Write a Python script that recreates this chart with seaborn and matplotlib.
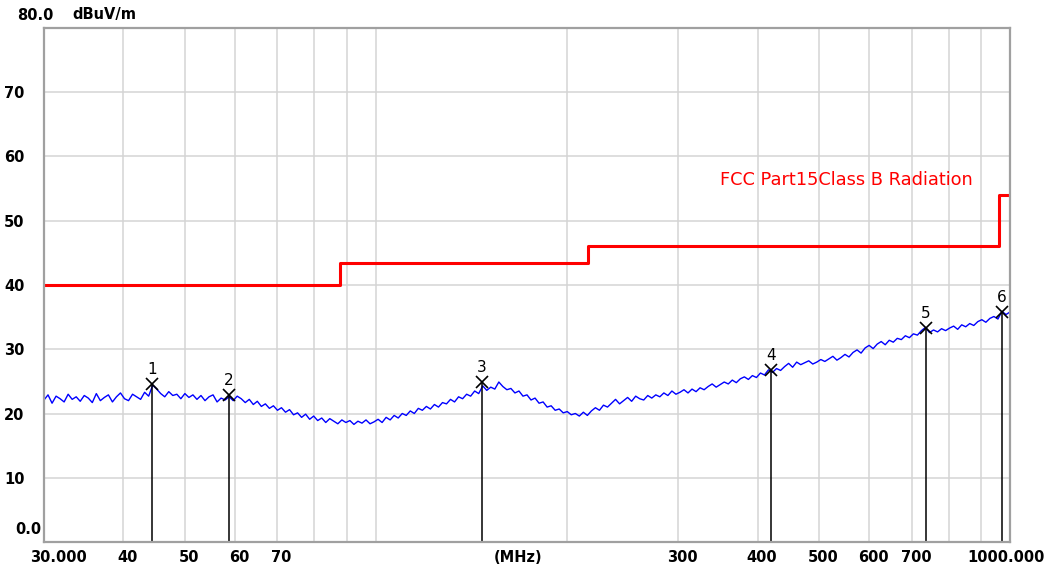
import numpy as np
import pandas as pd
import matplotlib
matplotlib.use("Agg")
import matplotlib.pyplot as plt
import seaborn as sns

sns.set_style('white')
plt.rcParams['font.family'] = ['DejaVu Sans']
plt.rcParams['text.color'] = 'black'
plt.rcParams['xtick.color'] = 'black'
plt.rcParams['ytick.color'] = 'black'

# 測定データ (dBuV/m)  30MHz - 1000MHz のスイープ
trace_level = [
    22.1, 22.9, 21.6, 22.7, 22.3, 21.8, 23.0, 22.2, 22.6, 21.9,
    22.8, 22.4, 21.7, 23.1, 22.0, 22.5, 22.9, 21.8, 22.6, 23.2,
    22.3, 22.0, 23.0, 22.6, 22.2, 23.3, 22.7, 24.4, 23.8, 23.1,
    22.6, 23.4, 22.8, 23.0, 22.3, 23.1, 22.5, 22.9, 22.2, 22.8,
    22.0, 22.6, 22.9, 21.8, 22.4, 22.1, 22.6, 22.0, 22.7, 22.3,
    21.7, 22.2, 21.4, 21.9, 21.1, 21.5, 20.8, 21.2, 20.5, 20.9,
    20.2, 20.6, 19.8, 20.1, 19.4, 19.9, 19.1, 19.6, 18.9, 19.3,
    18.6, 19.2, 18.8, 18.4, 19.0, 18.6, 18.9, 18.3, 18.8, 18.5,
    19.0, 18.4, 18.7, 19.1, 18.6, 19.4, 19.0, 19.7, 19.3, 20.0,
    19.7, 20.4, 20.0, 20.8, 20.5, 21.1, 20.7, 21.4, 21.0, 21.7,
    21.5, 22.2, 21.8, 22.6, 22.3, 23.0, 22.7, 23.5, 23.1, 24.3,
    23.6, 24.1, 23.8, 24.9, 24.2, 23.7, 23.9, 23.2, 23.5, 22.7,
    22.9, 22.1, 22.4, 21.6, 21.8, 21.0, 21.2, 20.5, 20.7, 20.1,
    20.3, 19.8, 20.0, 19.6, 20.2, 19.7, 20.4, 20.9, 20.5, 21.3,
    21.0, 21.6, 22.2, 21.5, 22.0, 22.5, 21.9, 22.7, 22.3, 22.1,
    22.8, 22.4, 22.9, 22.6, 23.2, 22.8, 23.5, 23.0, 23.3, 23.7,
    23.2, 23.8, 23.4, 24.0, 23.7, 24.2, 24.6, 24.1, 24.5, 24.9,
    24.6, 25.2, 24.8, 25.4, 25.7, 25.3, 25.9, 25.6, 26.3, 26.0,
    26.8, 26.4, 27.0, 26.7, 27.3, 27.8, 27.2, 28.0, 27.6, 27.9,
    28.2, 27.7, 28.0, 28.4, 28.1, 28.5, 28.9, 28.3, 28.7, 29.2,
    28.8, 29.5, 29.9, 29.4, 30.2, 30.6, 30.1, 30.8, 31.2, 30.7,
    31.4, 31.1, 31.7, 31.5, 32.1, 31.8, 32.4, 32.2, 32.9, 33.4,
    32.6, 33.0, 32.7, 33.2, 32.9, 33.3, 33.6, 33.1, 33.8, 33.5,
    34.0, 33.7, 34.3, 34.6, 34.2, 34.8, 35.1, 34.7, 35.9, 35.4, 35.8,
]
trace_freq = np.geomspace(30, 1000, len(trace_level))

# FCC Part15 Class B 限度値
limit_freq = [30, 88, 216, 960, 1000]
limit_level = [40.0, 43.5, 46.0, 54.0, 54.0]

# マーカー
marker_no = ['1', '2', '3', '4', '5', '6']
marker_freq = [44.4, 58.7, 147.1, 420.0, 736.5, 970.0]
marker_level = [24.6, 22.9, 24.9, 26.8, 33.3, 35.8]

# 軸ラベル
xtick_labels = ['30.000', '40', '50', '60', '70', '(MHz)', '300', '400', '500', '600', '700', '1000.000']
xtick_pos = [30, 40, 50, 60, 70, 165, 300, 400, 500, 600, 700, 1000]
ytick_vals = [10, 20, 30, 40, 50, 60, 70]

df_trace = pd.DataFrame({'freq': trace_freq, 'level': trace_level})
df_limit = pd.DataFrame({'freq': limit_freq, 'level': limit_level})

fig = plt.figure(figsize=(10.52, 5.74), dpi=100)
ax = fig.add_axes([44 / 1052, 32 / 574, 966 / 1052, 514 / 574])

sns.lineplot(data=df_trace, x='freq', y='level', ax=ax, color='#0000FF', linewidth=1.0)
sns.lineplot(data=df_limit, x='freq', y='level', ax=ax, color='#FF0000', linewidth=2.2,
             drawstyle='steps-post')

ax.set_xscale('log')
ax.set_xlim(30, 1000)
ax.set_ylim(0, 80)

# グリッド
grid_x = [40, 50, 60, 70, 80, 90, 100, 200, 300, 400, 500, 600, 700, 800, 900]
ax.set_xticks(grid_x)
ax.set_xticklabels([])
ax.xaxis.set_minor_locator(matplotlib.ticker.NullLocator())
ax.set_yticks(ytick_vals)
ax.set_yticklabels([str(v) for v in ytick_vals], fontsize=10.5, fontweight='bold')
ax.tick_params(axis='both', length=0)
ax.tick_params(axis='y', pad=14)
ax.grid(True, color='#D4D4D4', linewidth=1.1)
ax.set_xlabel('')
ax.set_ylabel('')
for s in ax.spines.values():
    s.set_color('#A0A0A0')
    s.set_linewidth(1.6)

# マーカー描画
for n, f, v in zip(marker_no, marker_freq, marker_level):
    ax.plot([f, f], [0, v], color='black', linewidth=1.1)
    ax.plot(f, v, marker='x', color='black', markersize=8, markeredgewidth=1.2)
    ax.annotate(n, (f, v), xytext=(0, 5), textcoords='offset points',
                ha='center', va='bottom', fontsize=11, color='black')

# x軸ラベル
for lab, pos in zip(xtick_labels, xtick_pos):
    ha = 'center'
    dx = 3
    if lab == '30.000':
        ha, dx = 'left', -10
    if lab == '1000.000':
        dx = -3
    ax.annotate(lab, (pos, 0), xytext=(dx, -11), textcoords='offset points',
                xycoords=('data', 'axes fraction'), ha=ha, va='center',
                fontsize=10.5, fontweight='bold', annotation_clip=False)

ax.annotate('0.0', (0, 0), xycoords='axes fraction', xytext=(-2, 9),
            textcoords='offset points', ha='right', va='center',
            fontsize=10.5, fontweight='bold', annotation_clip=False)
fig.text(17 / 1052, 1 - 15 / 574, '80.0', ha='left', va='center', fontsize=10.5, fontweight='bold')
fig.text(72 / 1052, 1 - 15 / 574, 'dBuV/m', ha='left', va='center', fontsize=10.5, fontweight='bold')

ax.text(349, 56.3, 'FCC Part15Class B Radiation', color='#FF0000', fontsize=12.8,
        ha='left', va='center')

fig.savefig('out.png', dpi=100)
